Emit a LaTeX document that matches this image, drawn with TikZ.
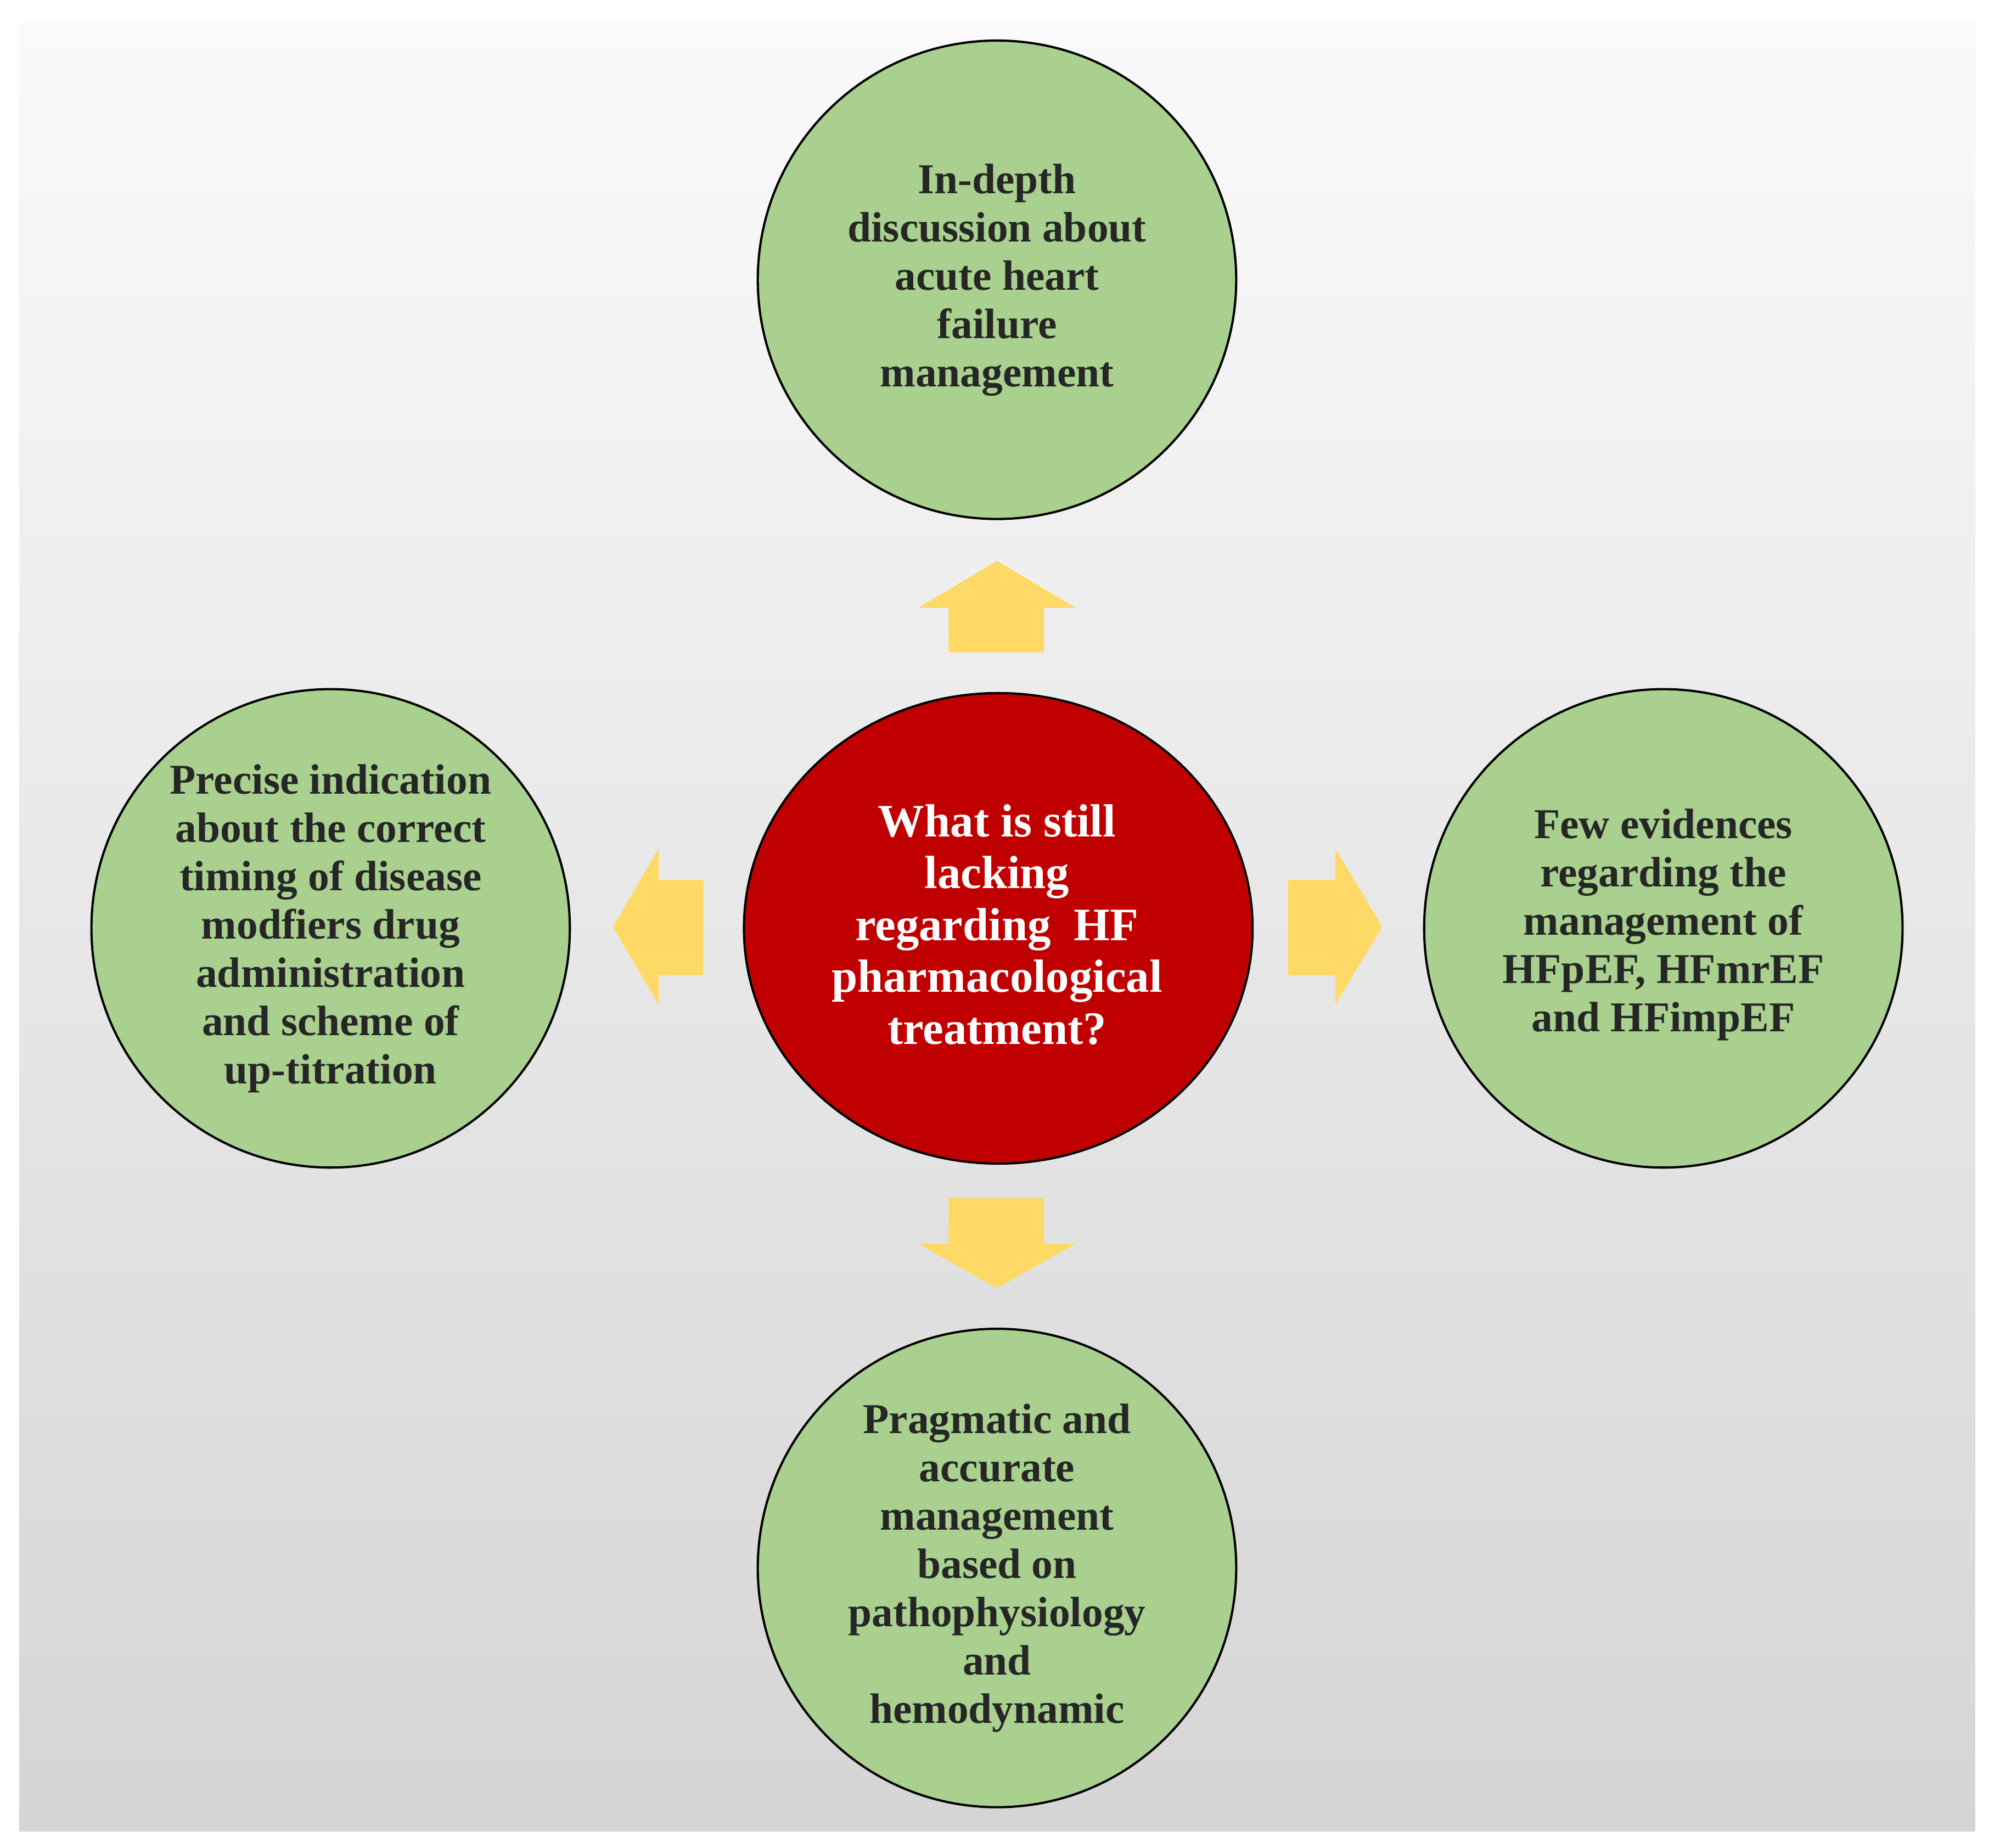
\documentclass[tikz,border=0pt]{standalone}
\usepackage{fontspec}
\setmainfont{Liberation Serif}
\begin{document}
\begin{tikzpicture}[x=0.01cm,y=-0.01cm,
  txt/.style={align=center,font=\bfseries\fontsize{9.5}{10.8}\selectfont,text=black!85},
  green/.style={draw=black,line width=0.5pt,fill={rgb,255:red,169;green,208;blue,142},circle,minimum size=3.76cm,inner sep=0pt},
  arr/.style={fill={rgb,255:red,255;green,217;blue,102},draw=none}]
\useasboundingbox (0,0) rectangle (1568,1453);
\fill[white] (0,0) rectangle (1568,1453);
\shade[top color={rgb,255:red,250;green,250;blue,250},bottom color={rgb,255:red,213;green,213;blue,213}] (15,18) rectangle (1553,1440);
\node[green] (t) at (784,220) {};
\node[txt] at (784,220) {In-depth\\discussion about\\acute heart\\failure\\management};
\node[green] (l) at (260,730) {};
\node[txt] at (260,730) {Precise indication\\about the correct\\timing of disease\\modfiers drug\\administration\\and scheme of\\up-titration};
\node[green] (r) at (1308,730) {};
\node[txt] at (1308,727) {Few evidences\\regarding the\\management of\\HFpEF, HFmrEF\\and HFimpEF};
\node[green] (b) at (784,1233) {};
\node[txt] at (784,1233) {Pragmatic and\\accurate\\management\\based on\\pathophysiology\\and\\hemodynamic};
\draw[line width=0.5pt,fill={rgb,255:red,192;green,0;blue,0}] (785,730) ellipse [x radius=200,y radius=185];
\node[txt,text=white,font=\bfseries\fontsize{10.4}{11.6}\selectfont] (c) at (784,727) {What is still\\lacking\\regarding\ \ HF\\pharmacological\\treatment?};
\fill[arr] (746,513) -- (746,478) -- (722,478) -- (784,441) -- (846,478) -- (821,478) -- (821,513) -- cycle;
\fill[arr] (746,942) -- (746,978) -- (722,978) -- (784,1013) -- (846,978) -- (821,978) -- (821,942) -- cycle;
\fill[arr] (553,692) -- (518,692) -- (518,667) -- (482,729) -- (518,790) -- (518,767) -- (553,767) -- cycle;
\fill[arr] (1013,692) -- (1050,692) -- (1050,667) -- (1087,729) -- (1050,790) -- (1050,767) -- (1013,767) -- cycle;
\end{tikzpicture}
\end{document}
